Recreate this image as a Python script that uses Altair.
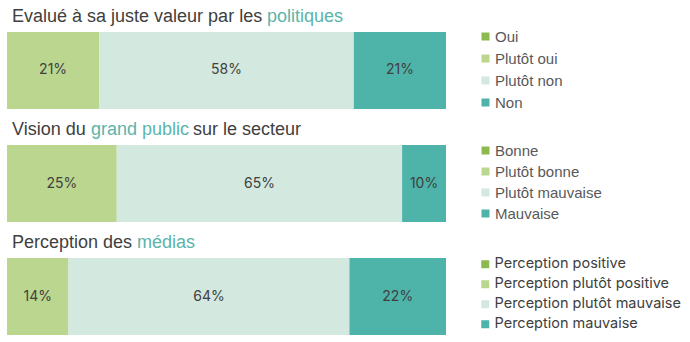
import altair as alt
import pandas as pd

# ---- data ----
questions = ["politiques", "grand public", "médias"]
cats_1 = ["Oui", "Plutôt oui", "Plutôt non", "Non"]
vals_1 = [0, 21, 58, 21]
cats_2 = ["Bonne", "Plutôt bonne", "Plutôt mauvaise", "Mauvaise"]
vals_2 = [0, 25, 65, 10]
cats_3 = ["Perception positive", "Perception plutôt positive",
          "Perception plutôt mauvaise", "Perception mauvaise"]
vals_3 = [0, 14, 64, 22]

title_prefix = ["Evalué à sa juste valeur par les ", "Vision du ", "Perception des "]
title_highlight = ["politiques", "grand public", "médias"]
title_suffix = ["", "sur le secteur", ""]

# ---- styles / layout ----
palette = ["#8CBA4F", "#BAD68F", "#D3E8DE", "#4EB3A9"]
text_dark = "#404040"
highlight_color = "#5BB4AB"
highlight_x = [267, 91, 137]
suffix_x = [0, 193, 0]
legend_y = [29, 143, 257]
legend_rowpad = [6, 5, 5]
legend_sizes = [15, 15, 14.5]
legend_fonts = ["Liberation Sans", "Liberation Sans", "Inter"]
legend_colors = ["#595959", "#595959", "#404040"]

all_cats = [cats_1, cats_2, cats_3]
all_vals = [vals_1, vals_2, vals_3]

rows = []
for q, cats, vals in zip(questions, all_cats, all_vals):
    for i, (c, v) in enumerate(zip(cats, vals)):
        rows.append({"question": q, "cat": c, "idx": i, "value": v})
df = pd.DataFrame(rows)

x_scale = alt.Scale(domain=[0, 100], range=[7, 446], nice=False, zero=False)
y_scale = alt.Scale(domain=questions, range=[32, 335], paddingInner=0.32, paddingOuter=0)

base = alt.Chart(df).transform_stack(
    stack="value", groupby=["question"], as_=["x0", "x1"], sort=[alt.SortField("idx")]
)

layers = []
for k, q in enumerate(questions):
    bar = base.transform_filter(alt.datum.question == q).mark_bar(
        strokeWidth=0
    ).encode(
        x=alt.X("x0:Q", scale=x_scale, axis=None),
        x2="x1:Q",
        y=alt.Y("question:N", scale=y_scale, axis=None),
        color=alt.Color(
            "cat:N",
            scale=alt.Scale(domain=all_cats[k], range=palette),
            sort=all_cats[k],
            legend=alt.Legend(
                title=None, orient="none", legendX=478, legendY=legend_y[k],
                symbolType="square", symbolSize=64, symbolStrokeWidth=0,
                symbolOpacity=1,
                labelFont=legend_fonts[k], labelFontSize=legend_sizes[k],
                labelLimit=400,
                labelColor=legend_colors[k], rowPadding=legend_rowpad[k],
                labelOffset=2, padding=0,
            ),
        ),
    )
    layers.append(bar)

labels = base.transform_filter(alt.datum.value > 0).transform_calculate(
    mid="(datum.x0 + datum.x1) / 2", label="datum.value + '%'"
).mark_text(font="Inter", fontSize=14, color=text_dark).encode(
    x=alt.X("mid:Q", scale=x_scale, axis=None),
    y=alt.Y("question:N", scale=y_scale, axis=None),
    text="label:N",
)
layers.append(labels)

tdf = pd.DataFrame({"question": questions, "prefix": title_prefix,
                    "highlight": title_highlight, "suffix": title_suffix})
tbase = alt.Chart(tdf)
for k, q in enumerate(questions):
    sub = tbase.transform_filter(alt.datum.question == q)
    common = dict(font="Liberation Sans", fontSize=18, align="left",
                  baseline="alphabetic", dy=-10)
    layers.append(sub.mark_text(color=text_dark, **common).encode(
        x=alt.value(12),
        y=alt.Y("question:N", scale=y_scale, axis=None, bandPosition=0),
        text="prefix:N"))
    layers.append(sub.mark_text(color=highlight_color, **common).encode(
        x=alt.value(highlight_x[k]),
        y=alt.Y("question:N", scale=y_scale, axis=None, bandPosition=0),
        text="highlight:N"))
    if title_suffix[k]:
        layers.append(sub.mark_text(color=text_dark, **common).encode(
            x=alt.value(suffix_x[k]),
            y=alt.Y("question:N", scale=y_scale, axis=None, bandPosition=0),
            text="suffix:N"))

chart = alt.layer(*layers).resolve_scale(color="independent").properties(
    width=690, height=342, padding=0, autosize="none", background="white"
).configure_view(stroke=None)

chart.save("out.html", embed_options={"renderer": "svg", "actions": False})
